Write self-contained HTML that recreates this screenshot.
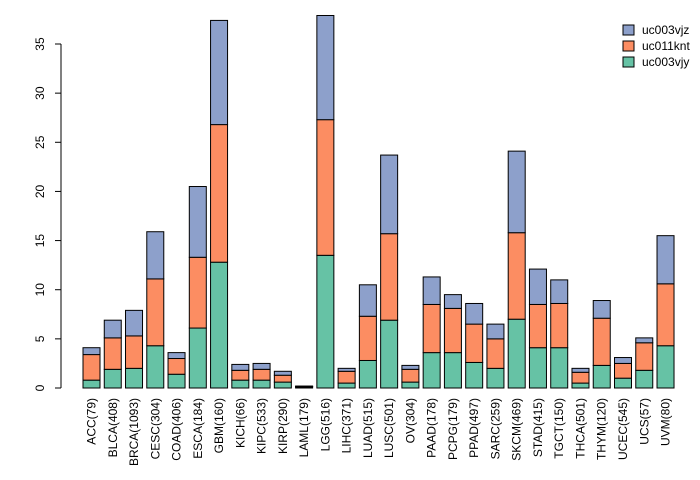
<!DOCTYPE html>
<html><head><meta charset="utf-8"><style>
html,body{margin:0;padding:0;background:#fff;}
svg{display:block;font-family:"Liberation Sans",Arial,sans-serif;}
</style></head><body>
<svg id="chart" width="700" height="480"></svg>
<script>
const categories=["ACC(79)","BLCA(408)","BRCA(1093)","CESC(304)","COAD(406)","ESCA(184)","GBM(160)","KICH(66)","KIPC(533)","KIRP(290)","LAML(179)","LGG(516)","LIHC(371)","LUAD(515)","LUSC(501)","OV(304)","PAAD(178)","PCPG(179)","PPAD(497)","SARC(259)","SKCM(469)","STAD(415)","TGCT(150)","THCA(501)","THYM(120)","UCEC(545)","UCS(57)","UVM(80)"];
const uc003vjy=[0.8,1.9,2.0,4.3,1.4,6.1,12.8,0.8,0.8,0.6,0.1,13.5,0.5,2.8,6.9,0.6,3.6,3.6,2.6,2.0,7.0,4.1,4.1,0.5,2.3,1.0,1.8,4.3];
const uc011knt=[2.6,3.2,3.3,6.8,1.6,7.2,14.0,1.0,1.1,0.7,0.05,13.8,1.2,4.5,8.8,1.3,4.9,4.5,3.9,3.0,8.8,4.4,4.5,1.1,4.8,1.5,2.8,6.3];
const uc003vjz=[0.7,1.8,2.6,4.8,0.6,7.2,10.6,0.6,0.6,0.4,0.05,10.6,0.3,3.2,8.0,0.4,2.8,1.4,2.1,1.5,8.3,3.6,2.4,0.4,1.8,0.6,0.5,4.9];
const yTicks=[0,5,10,15,20,25,30,35];
const series=[{name:"uc003vjy",vals:uc003vjy,col:"#66c2a5"},{name:"uc011knt",vals:uc011knt,col:"#fc8d62"},{name:"uc003vjz",vals:uc003vjz,col:"#8da0cb"}];
const NS="http://www.w3.org/2000/svg",svg=document.getElementById("chart");
const y0=388,pxPer=(388-44)/35;
function yScale(v){return y0-v*pxPer;}
function xScale(i){return 83+i*21.26;}
const bw=17;
function mk(t,a,p){const e=document.createElementNS(NS,t);for(const k in a)e.setAttribute(k,a[k]);(p||svg).appendChild(e);return e;}
const g=mk("g",{});


categories.forEach((c,i)=>{
  let cum=0;
  series.forEach(s=>{
    const v=s.vals[i];
    const r=mk("rect",{x:xScale(i),y:yScale(cum+v),width:bw,height:Math.max(0,yScale(cum)-yScale(cum+v)),fill:s.col,stroke:"#000","stroke-width":1},g);
    
    
    cum+=v;
  });
  const cx=xScale(i)+bw/2+4;
  const t=mk("text",{x:cx,y:398,"font-size":12,"text-anchor":"end",transform:`rotate(-90 ${cx} 398)`});
  t.textContent=c;
  
  
});
const ax=mk("g",{});


mk("line",{x1:61,x2:61,y1:yScale(0),y2:yScale(35),stroke:"#000"},ax);
yTicks.forEach(v=>{
  const y=yScale(v);
  mk("line",{x1:55,x2:61,y1:y,y2:y,stroke:"#000"},ax);
  const t=mk("text",{x:44,y:y,"font-size":12,"text-anchor":"middle",transform:`rotate(-90 44 ${y})`},ax);
  t.textContent=v;
  
  
});
const lg=mk("g",{});


[...series].reverse().forEach((s,k)=>{
  const y=25+k*16;
  mk("rect",{x:623,y:y,width:11,height:10,fill:s.col,stroke:"#000","stroke-width":1},lg);
  const t=mk("text",{x:642,y:y+9,"font-size":12},lg);
  t.textContent=s.name;
  
  
});
</script>
</body></html>
